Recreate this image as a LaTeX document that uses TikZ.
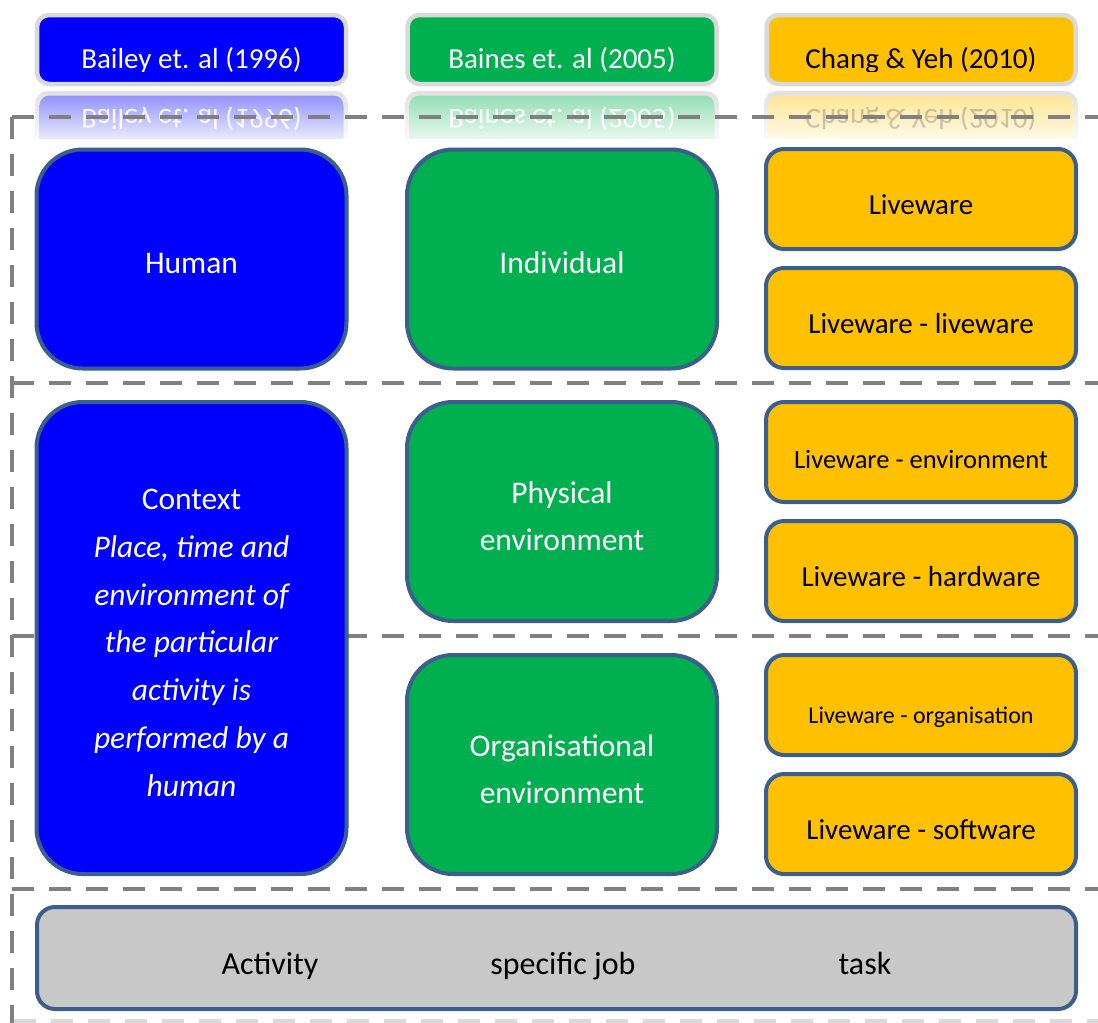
\documentclass[tikz,border=0pt]{standalone}
\usepackage{fontspec}
\setmainfont{Carlito}
\definecolor{edge}{HTML}{3B5E8C}
\definecolor{cblue}{HTML}{0000FF}
\definecolor{cgreen}{HTML}{00B050}
\definecolor{corange}{HTML}{FFC000}
\definecolor{cgray}{HTML}{C8C8C8}
\definecolor{hdredge}{HTML}{D9D9D9}
\definecolor{dashgray}{HTML}{808080}
\newcommand\fbig{\fontsize{31.5}{48}\selectfont}
\newcommand\fhdr{\fontsize{29}{35}\selectfont}
\begin{document}
\begin{tikzpicture}[x=1pt,y=-1pt,
  rbox/.style={draw=edge, line width=4pt, inner sep=0pt},
  bigbox/.style={rbox, rounded corners=46pt, minimum width=310pt, minimum height=219pt},
  smallbox/.style={rbox, rounded corners=18pt, fill=corange, minimum width=310pt, minimum height=100pt},
  hdrbox/.style={draw=hdredge, line width=4.5pt, rounded corners=12pt, minimum width=309pt, minimum height=69pt, inner sep=0pt},
  hdrtxt/.style={font=\fhdr, inner sep=0pt, anchor=base},
  bigtxt/.style={font=\fbig, inner sep=0pt, anchor=base, text=white},
  smalltxt/.style={font=\fontsize{#1}{#1}\selectfont, inner sep=0pt, anchor=base, text=black},
  reflout/.style={rounded corners=13pt, top color=hdredge!80!white, middle color=hdredge!30!white, bottom color=white},
  reflin/.style={rounded corners=10pt, top color=#1!42!white, middle color=#1!14!white, bottom color=white},
  dashln/.style={draw=dashgray, line width=4pt, dash pattern=on 22pt off 15pt},
  acttxt/.style={font=\fontsize{32}{38}\selectfont, inner sep=0pt, anchor=base, text=black}
]
\useasboundingbox (0,0) rectangle (1098,1023);
\clip (0,0) rectangle (1098,1023);

% ---- headers ----
\node[hdrbox, fill=cblue] (hbailey) at (191.5,49.5) {};
\node[hdrbox, fill=cgreen] (hbaines) at (562,49.5) {};
\node[hdrbox, fill=corange] (hchang) at (921,49.5) {};
\begin{scope}
  \clip (0,0) rectangle (1098,71);
  \node[hdrtxt, text=white] (tbailey) at (191.5,68.5) {Bailey et. al (1996)};
  \node[hdrtxt, text=white] (tbaines) at (562,68.5) {Baines et. al (2005)};
  \node[hdrtxt, text=black] (tchang) at (921,68.5) {Chang \& Yeh (2010)};
\end{scope}

% ---- reflections ----
\begin{scope}
  \clip (0,91) rectangle (1098,138);
  \shade[reflout] (35,91) rectangle (348,150);
  \shade[reflin=cblue] (39.5,95.5) rectangle (343.5,150);
  \shade[reflout] (405,91) rectangle (719,150);
  \shade[reflin=cgreen] (409.5,95.5) rectangle (714.5,150);
  \shade[reflout] (764,91) rectangle (1078,150);
  \shade[reflin=corange] (768.5,95.5) rectangle (1073.5,150);
\end{scope}
\begin{scope}
  \clip (0,107) rectangle (1098,134);
  \node[hdrtxt, text=white, text opacity=0.9] (rbailey) at (191.5,109.5) {\scalebox{1}[-1]{Bailey et. al (1996)}};
  \node[hdrtxt, text=white, text opacity=0.9] (rbaines) at (562,109.5) {\scalebox{1}[-1]{Baines et. al (2005)}};
  \node[hdrtxt, text=black, text opacity=0.2] (rchang) at (921,109.5) {\scalebox{1}[-1]{Chang \& Yeh (2010)}};
\end{scope}

% ---- dashed bands ----
\coordinate (dl0) at (12,117);  \coordinate (dr0) at (1110,117);
\coordinate (dl1) at (12,383);  \coordinate (dr1) at (1110,383);
\coordinate (dl2) at (12,636);  \coordinate (dr2) at (1110,636);
\coordinate (dl3) at (12,889);  \coordinate (dr3) at (1110,889);
\coordinate (dl4) at (12,1030);
\coordinate (bl) at (14,1021);  \coordinate (br) at (1110,1021);
\draw[dashln] (dl0) -- (dr0);
\draw[dashln] (dl1) -- (dr1);
\draw[dashln] (dl2) -- (dr2);
\draw[dashln] (dl3) -- (dr3);
\draw[dashln] (dl0) -- (dl4);
\draw[dashln, draw=hdredge] (bl) -- (br);

% ---- column 1 ----
\node[bigbox, fill=cblue] (human) at (191.5,259) {};
\node[bigtxt] (thuman) at (191.5,273.5) {Human};
\node[bigbox, fill=cblue, minimum height=472pt] (context) at (191.5,638) {};
\node[bigtxt] (ctx1) at (191.5,509.5) {Context};
\node[bigtxt] (ctx2) at (191.5,557.3) {\itshape Place, time and};
\node[bigtxt] (ctx3) at (191.5,605.1) {\itshape environment of};
\node[bigtxt] (ctx4) at (191.5,652.9) {\itshape the particular};
\node[bigtxt] (ctx5) at (191.5,700.7) {\itshape activity is};
\node[bigtxt] (ctx6) at (191.5,748.5) {\itshape performed by a};
\node[bigtxt] (ctx7) at (191.5,796.3) {\itshape human};

% ---- column 2 ----
\node[bigbox, fill=cgreen] (individual) at (562,259) {};
\node[bigtxt] (tindiv) at (562,273.5) {Individual};
\node[bigbox, fill=cgreen] (physical) at (562,511.5) {};
\node[bigtxt] (tphys1) at (562,503.3) {Physical};
\node[bigtxt] (tphys2) at (562,550.8) {environment};
\node[bigbox, fill=cgreen] (organis) at (562,764.5) {};
\node[bigtxt] (torg1) at (562,756.3) {Organisational};
\node[bigtxt] (torg2) at (562,803.8) {environment};

% ---- column 3 ----
\node[smallbox] (lw) at (921,199) {};
\node[smalltxt=29] (tlw) at (921,214.3) {Liveware};
\node[smallbox] (lwlw) at (921,318) {};
\node[smalltxt=29] (tlwlw) at (921,333.8) {Liveware - liveware};
\node[smallbox] (lwenv) at (921,452) {};
\node[smalltxt=26.5] (tlwenv) at (921,468.3) {Liveware - environment};
\node[smallbox] (lwhw) at (921,571) {};
\node[smalltxt=29] (tlwhw) at (921,586.8) {Liveware - hardware};
\node[smallbox] (lworg) at (921,705) {};
\node[smalltxt=24] (tlworg) at (921,723.3) {Liveware - organisation};
\node[smallbox] (lwsw) at (921,824) {};
\node[smalltxt=29] (tlwsw) at (921,839.8) {Liveware - software};

% ---- activity bar ----
\node[rbox, rounded corners=18pt, fill=cgray, minimum width=1039pt, minimum height=102pt] (activity) at (556.5,958) {};
\node[acttxt] (tact) at (270,974.3) {Activity};
\node[acttxt] (tjob) at (563,974.3) {specific job};
\node[acttxt] (ttask) at (865,974.3) {task};
\end{tikzpicture}
\end{document}
